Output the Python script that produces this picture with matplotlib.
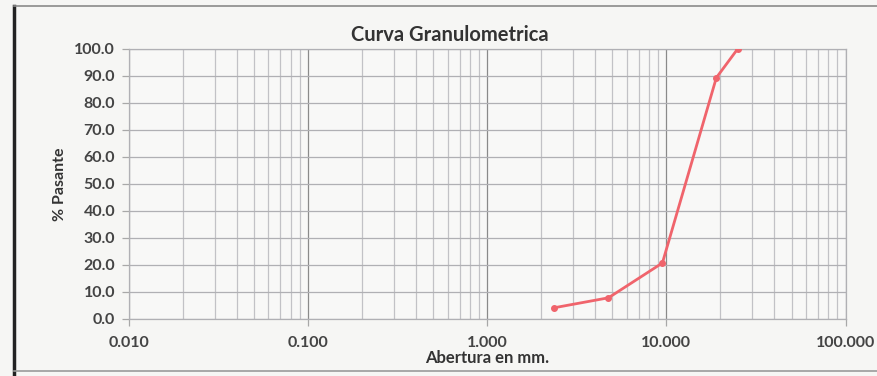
import numpy as np
import matplotlib.pyplot as plt
from matplotlib.ticker import FixedLocator, LogLocator, NullFormatter
from matplotlib.lines import Line2D

# sieve openings (mm) and % passing
abertura = [2.36, 4.75, 9.5, 19.0, 25.0]
pasante = [4.1, 7.8, 20.7, 89.3, 100.0]

x_ticks = [0.01, 0.1, 1, 10, 100]
x_labels = ["0.010", "0.100", "1.000", "10.000", "100.000"]
y_ticks = np.arange(0, 101, 10)

plt.rcParams['font.family'] = ['Lato', 'DejaVu Sans']

fig = plt.figure(figsize=(8.78, 3.76), dpi=100)
fig.patch.set_facecolor('#f6f6f4')
ax = fig.add_axes([0.147, 0.152, 0.816, 0.718])
ax.set_facecolor('#f8f8f7')

ax.set_xscale('log')
ax.set_xlim(0.01, 100)
ax.set_ylim(0, 100)

ax.xaxis.set_major_locator(FixedLocator(x_ticks))
ax.set_xticklabels(x_labels)
ax.xaxis.set_minor_locator(LogLocator(base=10, subs=np.arange(2, 10)))
ax.xaxis.set_minor_formatter(NullFormatter())
ax.set_yticks(y_ticks)
ax.set_yticklabels(["%.1f" % v for v in y_ticks])

ax.grid(which='major', axis='x', color='#8a8a8a', lw=0.9)
ax.grid(which='minor', axis='x', color='#c2c2c6', lw=0.9)
ax.grid(which='major', axis='y', color='#b0b0b4', lw=0.9)
ax.set_axisbelow(True)

for s in ax.spines.values():
    s.set_color('#b0b0b4')
    s.set_linewidth(0.9)

ax.tick_params(axis='both', which='major', colors='#a8a8a8', labelcolor='#444444',
               labelsize=11.5, length=5, width=0.9)
ax.tick_params(axis='y', which='major', pad=5)
ax.tick_params(axis='x', which='minor', length=0)
ax.tick_params(axis='x', which='major', pad=7)
for lab in ax.get_xticklabels() + ax.get_yticklabels():
    lab.set_fontweight('bold')

ax.plot(abertura, pasante, color='#f0646c', lw=2, marker='o', ms=4,
        markerfacecolor='#f0646c', markeredgecolor='#f0646c', zorder=5)

fig.text(0.512, 0.908, "Curva Granulometrica", fontsize=14.5, fontweight='bold',
         color='#333333', ha='center', va='center')
ax.set_xlabel("Abertura en mm.", fontsize=12, fontweight='bold', color='#333333', labelpad=0)
ax.set_ylabel("% Pasante", fontsize=11.5, fontweight='bold', color='#333333', labelpad=5)

# page frame lines from the scanned sheet
fig.add_artist(Line2D([0.016, 0.016], [0.0, 0.985], color='#222222', lw=2.5))
fig.add_artist(Line2D([0.016, 1.0], [0.984, 0.984], color='#8a8a8a', lw=1.2))
fig.add_artist(Line2D([0.016, 1.0], [0.014, 0.014], color='#9a9a9a', lw=1.2))

fig.savefig("out.png", dpi=100, facecolor=fig.get_facecolor())
